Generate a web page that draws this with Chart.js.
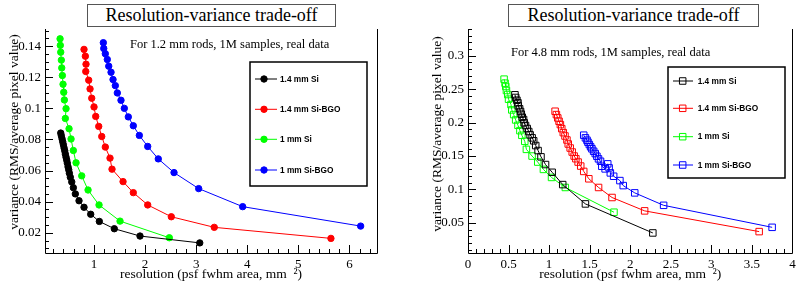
<!DOCTYPE html>
<html>
<head>
<meta charset="utf-8">
<script src="https://cdn.jsdelivr.net/npm/chart.js@4.4.0/dist/chart.umd.min.js"></script>
<style>
  body { margin: 0; background: #fff; }
  #wrap { position: relative; width: 798px; height: 288px; overflow: hidden; }
  .pane { position: absolute; top: 0; width: 399px; height: 288px; }
  .title { position: absolute; top: 4px; height: 21px; border: 1px solid #555; background: #fff;
           font: 18px "Liberation Serif", serif; line-height: 21px; text-align: center; color: #000; }
  .note { position: absolute; font: 12.5px "Liberation Serif", serif; line-height: 14px; color: #000; white-space: nowrap; }
</style>
</head>
<body>
<div id="wrap">
  <canvas id="chartLeft" class="pane" style="left:0" width="399" height="288"></canvas>
  <canvas id="chartRight" class="pane" style="left:399px" width="399" height="288"></canvas>
  <div class="title" style="left:87px; width:247px">Resolution-variance trade-off</div>
  <div class="title" style="left:508px; width:249px">Resolution-variance trade-off</div>
  <div class="note" style="left:130px; top:37px">For 1.2 mm rods, 1M samples, real data</div>
  <div class="note" style="left:511px; top:45px">For 4.8 mm rods, 1M samples, real data</div>
</div>
<script>
// ==== DATOS: 1.2 mm rods (izquierda) ====
const seriesNames = ["1.4 mm Si", "1.4 mm Si-BGO", "1 mm Si", "1 mm Si-BGO"];

const rod12Si14X = [0.348, 0.36, 0.374, 0.387, 0.40, 0.413, 0.427, 0.438, 0.452, 0.466, 0.477, 0.491, 0.505, 0.517, 0.536, 0.564, 0.595, 0.634, 0.706, 0.804, 0.935, 1.104, 1.397, 1.90, 3.07];
const rod12Si14Y = [0.0841, 0.0824, 0.0804, 0.0785, 0.0766, 0.0746, 0.0727, 0.0706, 0.0686, 0.0667, 0.0648, 0.0624, 0.0605, 0.0583, 0.0557, 0.0527, 0.049, 0.045, 0.0406, 0.0364, 0.0319, 0.0273, 0.0226, 0.0179, 0.0135];

const rod12Bgo14X = [0.804, 0.83, 0.843, 0.838, 0.896, 0.922, 0.955, 1.0, 1.033, 1.092, 1.151, 1.221, 1.313, 1.352, 1.568, 1.769, 2.051, 2.513, 3.354, 5.638];
const rod12Bgo14Y = [0.1379, 0.1335, 0.1284, 0.1237, 0.1181, 0.1125, 0.1065, 0.1009, 0.0948, 0.0884, 0.0819, 0.0751, 0.068, 0.0609, 0.0529, 0.0458, 0.0379, 0.0303, 0.0235, 0.0164];

const rod12Si10X = [0.335, 0.34, 0.348, 0.36, 0.368, 0.38, 0.393, 0.407, 0.419, 0.452, 0.438, 0.511, 0.55, 0.595, 0.648, 0.759, 0.883, 1.098, 1.509, 2.474];
const rod12Si10Y = [0.1447, 0.1405, 0.1361, 0.131, 0.126, 0.1211, 0.1155, 0.1103, 0.1054, 0.0998, 0.0935, 0.0869, 0.0803, 0.0729, 0.065, 0.0566, 0.0475, 0.0379, 0.0275, 0.0168];

const rod12Bgo10X = [1.182, 1.19, 1.221, 1.26, 1.288, 1.333, 1.372, 1.417, 1.456, 1.528, 1.593, 1.671, 1.769, 1.887, 2.051, 2.258, 2.566, 3.049, 3.91, 6.22];
const rod12Bgo10Y = [0.1422, 0.1385, 0.1351, 0.1314, 0.1271, 0.1232, 0.1185, 0.1146, 0.1099, 0.1052, 0.1, 0.0945, 0.0888, 0.0826, 0.0755, 0.0675, 0.0587, 0.0484, 0.0368, 0.0243];

// ==== DATOS: 4.8 mm rods (derecha) ====
const rod48Si14X = [0.579, 0.588, 0.603, 0.616, 0.62, 0.636, 0.648, 0.657, 0.669, 0.685, 0.693, 0.709, 0.73, 0.749, 0.766, 0.791, 0.81, 0.835, 0.864, 0.9, 0.956, 1.038, 1.168, 1.448, 2.279];
const rod48Si14Y = [0.2416, 0.2376, 0.2335, 0.2296, 0.2251, 0.2207, 0.2166, 0.2126, 0.2081, 0.2046, 0.1997, 0.1957, 0.1912, 0.1867, 0.1817, 0.1772, 0.1728, 0.1657, 0.1582, 0.1488, 0.1373, 0.1257, 0.1073, 0.0784, 0.035];

const rod48Bgo14X = [1.074, 1.09, 1.107, 1.123, 1.139, 1.156, 1.175, 1.196, 1.22, 1.236, 1.26, 1.285, 1.309, 1.33, 1.358, 1.39, 1.427, 1.49, 1.61, 1.776, 2.178, 3.59];
const rod48Bgo14Y = [0.217, 0.212, 0.207, 0.202, 0.197, 0.191, 0.185, 0.180, 0.174, 0.168, 0.162, 0.156, 0.150, 0.146, 0.141, 0.135, 0.127, 0.116, 0.103, 0.088, 0.068, 0.037];

const rod48Si10X = [0.445, 0.457, 0.466, 0.474, 0.49, 0.50, 0.53, 0.54, 0.563, 0.588, 0.616, 0.64, 0.664, 0.70, 0.72, 0.79, 0.86, 0.93, 1.03, 1.2, 1.8];
const rod48Si10Y = [0.265, 0.259, 0.254, 0.248, 0.242, 0.235, 0.227, 0.219, 0.212, 0.204, 0.196, 0.188, 0.181, 0.172, 0.160, 0.150, 0.141, 0.130, 0.118, 0.103, 0.066];

const rod48Bgo10X = [1.427, 1.448, 1.467, 1.479, 1.496, 1.512, 1.528, 1.549, 1.569, 1.589, 1.609, 1.634, 1.65, 1.691, 1.723, 1.74, 1.755, 1.796, 1.873, 1.914, 2.056, 2.412, 3.75];
const rod48Bgo10Y = [0.1812, 0.1772, 0.1737, 0.1707, 0.1672, 0.1638, 0.1608, 0.1572, 0.1537, 0.1497, 0.1458, 0.1422, 0.1347, 0.1308, 0.1383, 0.1323, 0.1248, 0.1198, 0.1133, 0.1058, 0.0949, 0.0763, 0.0434];

// ==== TICKS ====
const leftXTicks = [1, 2, 3, 4, 5, 6];
const leftYTicks = [0.02, 0.04, 0.06, 0.08, 0.1, 0.12, 0.14];
const rightXTicks = [0, 0.5, 1, 1.5, 2, 2.5, 3, 3.5, 4];
const rightYTicks = [0.05, 0.1, 0.15, 0.2, 0.25, 0.3];

const colors = ["#000000", "#ff0000", "#00ff00", "#0000ff"];
const serif = "'Liberation Serif', 'Times New Roman', serif";
const yTitleText = "variance (RMS/average pixel value)";

const pts = (xs, ys) => xs.map((x, i) => ({ x, y: ys[i] }));

// marco estilo ROOT con ticks hacia dentro + titulo vertical
const rootFrame = {
  id: "rootFrame",
  beforeDatasetsDraw(chart, args, o) {
    const { ctx, chartArea: a, scales: { x, y } } = chart;
    ctx.save();
    ctx.strokeStyle = "#000";
    ctx.lineWidth = 1;
    ctx.beginPath();
    ctx.moveTo(Math.round(a.left) + 0.5, a.top);
    ctx.lineTo(Math.round(a.left) + 0.5, Math.round(a.bottom) + 0.5);
    ctx.lineTo(Math.round(a.right) + 0.5, Math.round(a.bottom) + 0.5);
    ctx.lineTo(Math.round(a.right) + 0.5, a.top);
    ctx.stroke();

    const isMajor = (v, step) => Math.abs(v / step - Math.round(v / step)) < 1e-6;
    ctx.beginPath();
    for (let i = Math.ceil(x.min / o.xMinor); i * o.xMinor <= x.max + 1e-9; i++) {
      const v = i * o.xMinor;
      const px = Math.round(x.getPixelForValue(v)) + 0.5;
      const len = isMajor(v, o.xMajor) ? 8 : 4;
      ctx.moveTo(px, a.bottom);
      ctx.lineTo(px, a.bottom - len);
    }
    for (let i = Math.ceil(y.min / o.yMinor); i * o.yMinor <= y.max + 1e-9; i++) {
      const v = i * o.yMinor;
      const py = Math.round(y.getPixelForValue(v)) + 0.5;
      const len = isMajor(v, o.yMajor) ? 8 : 4;
      ctx.moveTo(a.left, py);
      ctx.lineTo(a.left + len, py);
    }
    ctx.stroke();

    // titulo del eje Y (ROOT lo coloca algo por encima del centro)
    ctx.translate(o.titleX, o.titleY);
    ctx.rotate(-Math.PI / 2);
    ctx.fillStyle = "#000";
    ctx.font = "13.5px " + serif;
    ctx.textAlign = "center";
    ctx.textBaseline = "middle";
    ctx.fillText(yTitleText, 0, 0);
    ctx.restore();
  }
};

// leyenda en caja
const boxLegend = {
  id: "boxLegend",
  afterDraw(chart, args, o) {
    const ctx = chart.ctx;
    ctx.save();
    ctx.fillStyle = "#fff";
    ctx.fillRect(o.x, o.y, o.w, o.h);
    ctx.strokeStyle = "#000";
    ctx.lineWidth = 1.5;
    ctx.strokeRect(o.x, o.y, o.w, o.h);
    chart.data.datasets.forEach((ds, i) => {
      const yy = o.rows[i];
      ctx.strokeStyle = ds.borderColor;
      ctx.lineWidth = 1;
      ctx.beginPath();
      ctx.moveTo(o.lineX0, yy);
      ctx.lineTo(o.lineX1, yy);
      ctx.stroke();
      ctx.fillStyle = ds.pointBackgroundColor;
      ctx.strokeStyle = ds.pointBorderColor;
      ctx.lineWidth = ds.pointBorderWidth;
      Chart.helpers.drawPoint(ctx, { pointStyle: ds.pointStyle, radius: ds.pointRadius, borderWidth: ds.pointBorderWidth, rotation: 0 }, o.markX, yy);
      ctx.fillStyle = "#000";
      ctx.font = "bold 8.3px 'Liberation Sans', Arial, sans-serif";
      ctx.textBaseline = "middle";
      ctx.fillText(ds.label, o.textX, yy + 0.5);
    });
    ctx.restore();
  }
};

function makeDatasets(list, style) {
  return list.map(([xs, ys], i) => ({
    label: seriesNames[i],
    data: pts(xs, ys),
    showLine: true,
    borderColor: colors[i],
    borderWidth: 1,
    pointStyle: style.pointStyle,
    pointRadius: style.radius,
    pointBorderWidth: style.pointBorder,
    pointBorderColor: colors[i],
    pointBackgroundColor: style.filled ? colors[i] : "rgba(0,0,0,0)"
  }));
}

function makeChart(id, datasets, sc) {
  return new Chart(document.getElementById(id), {
    type: "scatter",
    data: { datasets },
    options: {
      responsive: false,
      animation: false,
      events: [],
      layout: { padding: sc.pad },
      plugins: {
        legend: { display: false },
        tooltip: { enabled: false },
        rootFrame: sc.frame,
        boxLegend: sc.legend
      },
      scales: {
        x: {
          type: "linear",
          min: sc.xMin,
          max: sc.xMax,
          afterBuildTicks: (s) => { s.ticks = sc.xTicks.map((v) => ({ value: v })); },
          afterFit: (s) => { s.height = 35; s.paddingLeft = 0; s.paddingRight = 0; },
          grid: { display: false, drawTicks: false },
          border: { display: false },
          ticks: { color: "#000", font: { family: serif, size: 13 }, padding: 4, maxRotation: 0, autoSkip: false, callback: (v) => String(v) },
          title: { display: true, text: "resolution (psf fwhm area, mm  ²)", color: "#000", font: { family: serif, size: 13.5 }, padding: { top: 0, bottom: 5 } }
        },
        y: {
          type: "linear",
          min: sc.yMin,
          max: sc.yMax,
          afterBuildTicks: (s) => { s.ticks = sc.yTicks.map((v) => ({ value: v })); },
          afterFit: (s) => { s.width = sc.yWidth; s.paddingTop = 0; s.paddingBottom = 0; },
          grid: { display: false, drawTicks: false },
          border: { display: false },
          ticks: { color: "#000", font: { family: serif, size: 13 }, padding: 4, autoSkip: false, callback: (v) => String(v) },
          title: { display: false }
        }
      }
    },
    plugins: [rootFrame, boxLegend]
  });
}

// ==== GRAFICO IZQUIERDO ====
makeChart("chartLeft",
  makeDatasets([[rod12Si14X, rod12Si14Y], [rod12Bgo14X, rod12Bgo14Y], [rod12Si10X, rod12Si10Y], [rod12Bgo10X, rod12Bgo10Y]],
    { pointStyle: "circle", radius: 3.2, pointBorder: 1, filled: true }),
  {
    pad: { left: 0, right: 22, top: 29, bottom: 0 },
    xMin: 0.04, xMax: 6.54, yMin: 0.007, yMax: 0.151,
    xTicks: leftXTicks, yTicks: leftYTicks,
    yWidth: 45,
    frame: { xMajor: 1, xMinor: 0.2, yMajor: 0.02, yMinor: 0.005, titleX: 14, titleY: 132 },
    legend: { x: 250, y: 62, w: 117, h: 124, rows: [79, 109.3, 139.3, 170], lineX0: 255, lineX1: 277, markX: 264, textX: 280 }
  });

// ==== GRAFICO DERECHO ====
makeChart("chartRight",
  makeDatasets([[rod48Si14X, rod48Si14Y], [rod48Bgo14X, rod48Bgo14Y], [rod48Si10X, rod48Si10Y], [rod48Bgo10X, rod48Bgo10Y]],
    { pointStyle: "rect", radius: 4.6, pointBorder: 1, filled: false }),
  {
    pad: { left: 0, right: 2, top: 29, bottom: 0 },
    xMin: 0, xMax: 4, yMin: 0.005, yMax: 0.34,
    xTicks: rightXTicks, yTicks: rightYTicks,
    yWidth: 69,
    frame: { xMajor: 0.5, xMinor: 0.1, yMajor: 0.05, yMinor: 0.01, titleX: 38, titleY: 134 },
    legend: { x: 269, y: 67, w: 117, h: 111, rows: [81, 108.3, 136.7, 165], lineX0: 274, lineX1: 294, markX: 283.7, textX: 298.7 }
  });
</script>
</body>
</html>
